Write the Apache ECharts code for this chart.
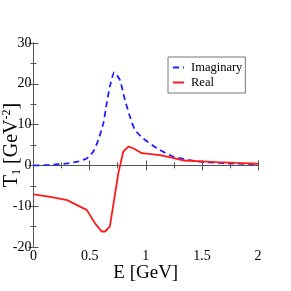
<!DOCTYPE html>
<html><head><meta charset="utf-8">
<script src="https://cdn.jsdelivr.net/npm/echarts@6/dist/echarts.min.js"></script>
<style>html,body{margin:0;padding:0;background:#fff}#c{width:291px;height:291px}</style>
</head><body><div id="c"></div>
<script>
const imagE = [0, 0.15, 0.3, 0.4, 0.474, 0.533, 0.577, 0.622, 0.652, 0.68, 0.72, 0.77, 0.815, 0.86, 0.904, 0.978, 1.1, 1.25, 1.49, 1.75, 2.0];
const imagT = [0.0, 0.1, 0.5, 1.0, 1.7, 3.4, 6.2, 10.3, 15.2, 19.3, 22.8, 20.9, 16.0, 11.9, 8.7, 6.6, 4.2, 2.1, 0.9, 0.5, 0.3];
const realE = [0, 0.15, 0.3, 0.414, 0.474, 0.548, 0.607, 0.637, 0.68, 0.756, 0.8, 0.845, 0.889, 0.964, 1.127, 1.25, 1.34, 1.5, 1.63, 1.8, 2.0];
const realT = [-7.1, -7.7, -8.5, -10.1, -10.9, -14.2, -16.2, -16.2, -15.0, -1.9, 3.4, 4.6, 4.2, 3.0, 2.5, 1.8, 1.2, 1.0, 0.8, 0.6, 0.4];
const xTicks = ['0', '0.5', '1', '1.5', '2'];
const yTicks = ['-20', '-10', '0', '10', '20', '30'];

const font = 'Liberation Serif';
const chart = echarts.init(document.getElementById('c'));
const axisLine = {show: true, lineStyle: {color: '#555', width: 1}};
chart.setOption({
  animation: false,
  grid: {left: 33.5, right: 33, top: 43, bottom: 44, containLabel: false, outerBoundsMode: 'none'},
  legend: {
    left: 168, top: 57, orient: 'vertical',
    backgroundColor: '#fff', borderColor: '#777', borderWidth: 1, padding: [4, 3, 4, 4],
    itemGap: 2, itemWidth: 11, itemHeight: 15,
    itemStyle: {opacity: 0},
    textStyle: {fontFamily: font, fontSize: 12.5, color: '#000', padding: [0, 0, 0, 2]},
    data: ['Imaginary', 'Real']
  },
  xAxis: [{
    type: 'value', min: 0, max: 2, interval: 0.5,
    name: 'E [GeV]', nameLocation: 'middle', nameGap: 17, nameMoveOverlap: false,
    nameTextStyle: {fontFamily: font, fontSize: 19, color: '#000'},
    axisLine: axisLine,
    axisTick: {inside: true, length: 5, lineStyle: {color: '#555'}},
    minorTick: {show: true, splitNumber: 2, length: 3, lineStyle: {color: '#555'}},
    splitLine: {show: false},
    axisLabel: {fontFamily: font, fontSize: 14, color: '#000', margin: 2,
      formatter: v => xTicks[Math.round(v / 0.5)]}
  }, {
    type: 'value', min: 0, max: 2, interval: 0.5, position: 'top',
    axisLine: axisLine,
    axisTick: {inside: true, length: 5, lineStyle: {color: '#555'}},
    minorTick: {show: true, splitNumber: 2, length: 3, lineStyle: {color: '#555'}},
    splitLine: {show: false}, axisLabel: {show: false}
  }],
  yAxis: [{
    type: 'value', min: -20, max: 30, interval: 10,
    name: '{a|T}{s|1}{a| [GeV}{p|-2}{a|]}', nameLocation: 'middle', nameGap: 11, nameRotate: 90,
    nameMoveOverlap: false,
    nameTextStyle: {fontFamily: font, fontSize: 18, color: '#000',
      rich: {
        a: {fontFamily: font, fontSize: 20, color: '#000'},
        s: {fontFamily: font, fontSize: 12, color: '#000', padding: [10, 0, 0, 0]},
        p: {fontFamily: font, fontSize: 12, color: '#000', padding: [0, 0, 10, 0]}
      }},
    axisLine: axisLine,
    axisTick: {inside: true, length: 5, lineStyle: {color: '#555'}},
    minorTick: {show: true, splitNumber: 2, length: 3, lineStyle: {color: '#555'}},
    splitLine: {show: false},
    axisLabel: {fontFamily: font, fontSize: 14, color: '#000', margin: 2,
      formatter: v => yTicks[Math.round((v + 20) / 10)]}
  }, {
    type: 'value', min: -20, max: 30, interval: 10, position: 'right',
    axisLine: axisLine,
    axisTick: {inside: true, length: 5, lineStyle: {color: '#555'}},
    minorTick: {show: true, splitNumber: 2, length: 3, lineStyle: {color: '#555'}},
    splitLine: {show: false}, axisLabel: {show: false}
  }],
  series: [{
    name: 'Imaginary', type: 'line', symbol: 'none', smooth: 0.2,
    data: imagE.map((e, i) => [e, imagT[i]]),
    itemStyle: {color: '#1f1fff'},
    lineStyle: {color: '#1f1fff', width: 1.8, type: [6, 4]}
  }, {
    name: 'Real', type: 'line', symbol: 'none',
    data: realE.map((e, i) => [e, realT[i]]),
    itemStyle: {color: '#ff1a1a'},
    lineStyle: {color: '#ff1a1a', width: 1.8}
  }]
});
</script></body></html>
